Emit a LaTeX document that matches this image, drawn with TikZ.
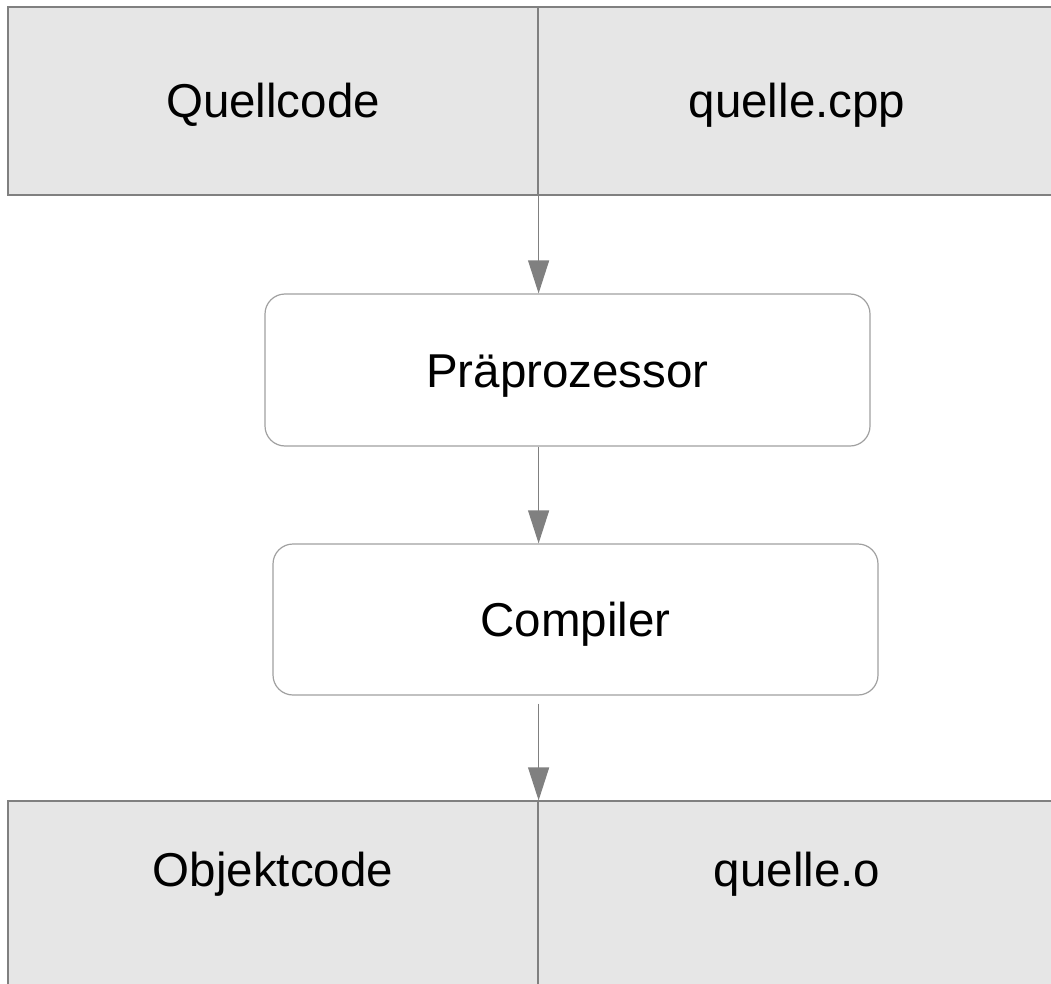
\documentclass[tikz,border=0pt]{standalone}
\usepackage{fontspec}
\setmainfont{Liberation Sans}
\usetikzlibrary{arrows.meta}
\definecolor{cellfill}{HTML}{E6E6E6}
\definecolor{edgegray}{HTML}{808080}
\definecolor{roundgray}{HTML}{A0A0A0}
\begin{document}
\begin{tikzpicture}[x=1pt,y=-1pt,
  lbl/.style={font=\fontsize{47.5}{57}\selectfont},
  cell/.style={lbl,draw=edgegray,fill=cellfill,line width=1.2pt,minimum height=188pt,
    inner sep=0pt,text height=34pt,text depth=0pt},
  lowcell/.style={cell,text depth=51pt},
  stage/.style={lbl,draw=roundgray,rounded corners=20pt,line width=1.2pt,minimum width=605pt,
    minimum height=152pt,inner sep=0pt,text height=34pt,text depth=0pt},
  flow/.style={draw=edgegray,line width=1.2pt,-{Triangle[width=21pt,length=33pt,fill=edgegray]}}]
\useasboundingbox (0,0) rectangle (1051,984);
\clip (0,0) rectangle (1051,984);
% top row
\node[cell,minimum width=530pt] (qc) at (273,101) {Quellcode};
\node[cell,minimum width=518pt] (qf) at (797,101) {quelle.cpp};
% stages
\node[stage] (pre) at (567.5,370) {Präprozessor};
\node[stage,minimum height=151pt] (comp) at (575.5,619.5) {Compiler};
% bottom row
\node[lowcell,minimum width=530pt] (oc) at (273,895) {Objektcode};
\node[lowcell,minimum width=518pt] (of) at (797,895) {quelle.o};
% connectors
\draw[flow] (qc.south east) -- (qc.south east |- pre.north);
\draw[flow] (pre.south -| qc.south east) -- (comp.north -| qc.south east);
\draw[flow,shorten <=8pt] (comp.south -| qc.south east) -- (oc.north east);
\end{tikzpicture}
\end{document}
